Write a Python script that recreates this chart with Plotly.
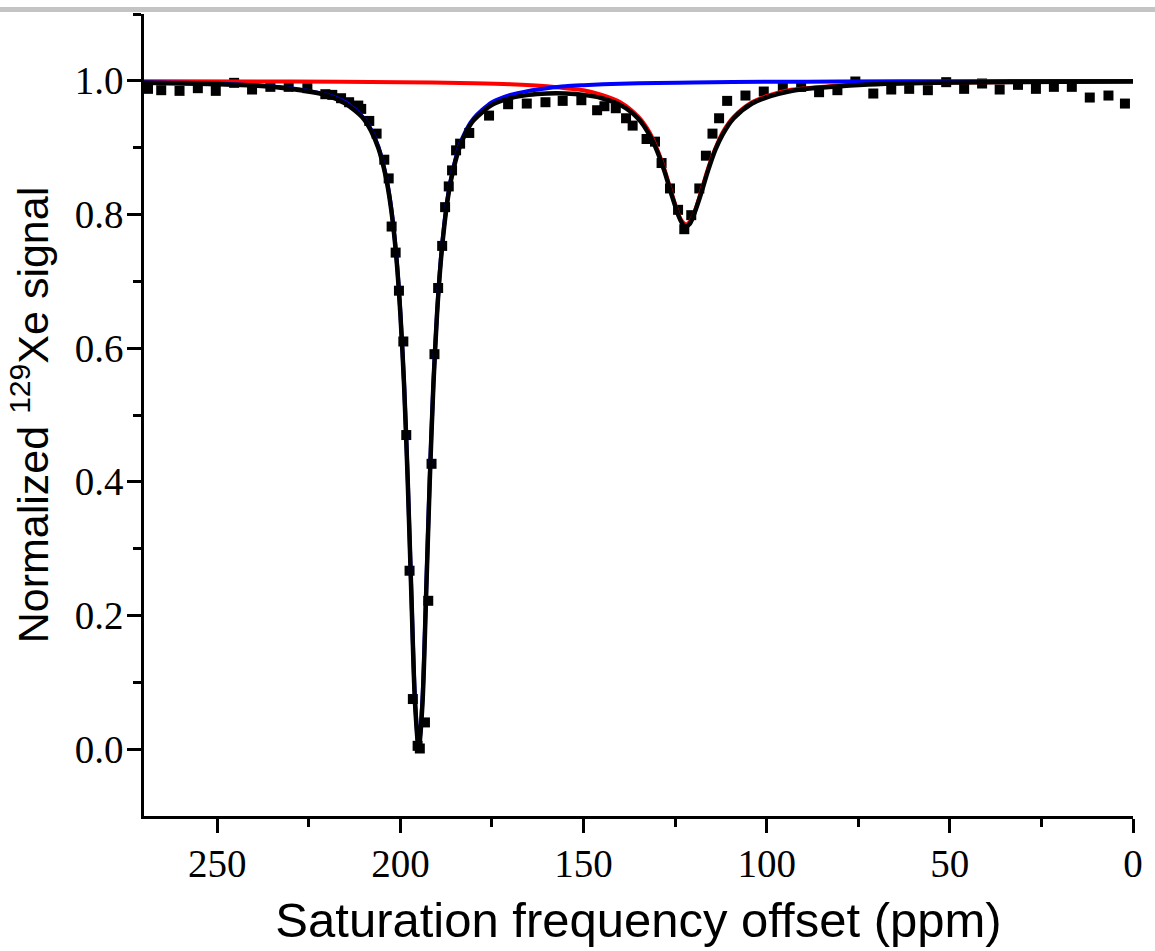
import plotly.graph_objects as go

# ---- measured data (squares) ----
data_x = [268.9, 265.3, 260.3, 255.3, 250.4, 245.4, 240.5, 235.5, 230.5, 225.4,
          220.5, 218.6, 216.2, 214.0, 211.5, 210.7, 208.5, 206.5, 204.4, 203.2,
          202.4, 201.3, 200.4, 199.2, 198.4, 197.5, 196.6, 195.3, 194.7, 193.3,
          192.4, 191.5, 190.7, 189.7, 188.6, 187.8, 186.8, 185.9, 184.8, 183.7,
          181.2, 175.8, 170.6, 165.5, 160.4, 155.7, 150.6, 146.3, 144.3, 141.2,
          138.4, 136.6, 132.8, 130.5, 128.7, 126.4, 124.2, 122.5, 120.6, 118.4,
          116.6, 114.8, 113.0, 110.8, 105.8, 100.8, 95.6, 90.6, 85.7, 80.7,
          75.8, 70.9, 66.0, 61.1, 56.0, 51.0, 46.1, 41.2, 36.4, 31.4,
          26.5, 21.6, 16.7, 11.8, 6.7, 2.2]
data_y = [0.988, 0.986, 0.985, 0.989, 0.985, 0.997, 0.987, 0.991, 0.991, 0.989,
          0.980, 0.979, 0.974, 0.968, 0.963, 0.958, 0.940, 0.921, 0.882, 0.854,
          0.782, 0.743, 0.686, 0.610, 0.470, 0.267, 0.075, 0.005, 0.001, 0.040,
          0.222, 0.427, 0.591, 0.690, 0.753, 0.811, 0.842, 0.866, 0.896, 0.906,
          0.922, 0.948, 0.965, 0.966, 0.968, 0.970, 0.971, 0.956, 0.962, 0.959,
          0.944, 0.933, 0.913, 0.909, 0.877, 0.839, 0.807, 0.778, 0.799, 0.839,
          0.888, 0.921, 0.944, 0.970, 0.978, 0.984, 0.990, 0.991, 0.983, 0.986,
          0.999, 0.981, 0.987, 0.988, 0.986, 0.998, 0.988, 0.996, 0.987, 0.994,
          0.988, 0.991, 0.991, 0.975, 0.978, 0.966]

# ---- total fit (black) ----
fit_x = [270, 260, 250, 240, 230, 220, 215, 210, 208, 206,
         204, 203, 202, 201, 200, 199, 198, 197, 196, 195,
         194, 193, 192, 191, 190, 189, 188, 187, 186, 184,
         182, 180, 175, 170, 165, 160, 155, 150, 145, 140,
         135, 132, 130, 128, 126, 124, 123, 122, 121, 120,
         118, 116, 114, 112, 109, 104, 99, 94, 89, 80,
         70, 55, 40, 20, 0]
fit_y = [0.997, 0.996, 0.995, 0.993, 0.988, 0.978, 0.966, 0.943, 0.925, 0.899,
         0.857, 0.826, 0.785, 0.729, 0.650, 0.545, 0.401, 0.229, 0.068, 0.001,
         0.066, 0.227, 0.399, 0.544, 0.651, 0.728, 0.784, 0.826, 0.856, 0.898,
         0.924, 0.941, 0.964, 0.974, 0.979, 0.981, 0.981, 0.979, 0.974, 0.964,
         0.943, 0.919, 0.896, 0.866, 0.830, 0.797, 0.786, 0.782, 0.786, 0.798,
         0.830, 0.866, 0.897, 0.920, 0.944, 0.966, 0.977, 0.984, 0.988, 0.992,
         0.995, 0.997, 0.998, 0.9985, 0.999]

# ---- component 1 (blue) ----
blue_x = [270, 250, 230, 220, 215, 210, 208, 206, 204, 203,
          202, 201, 200, 199, 198, 197, 196, 195, 194, 193,
          192, 191, 190, 189, 188, 187, 186, 184, 182, 180,
          175, 170, 165, 160, 155, 150, 140, 130, 120, 100,
          80, 50, 0]
blue_y = [0.998, 0.996, 0.989, 0.979, 0.968, 0.944, 0.927, 0.901, 0.859, 0.829,
          0.787, 0.731, 0.653, 0.547, 0.405, 0.233, 0.073, 0.003, 0.073, 0.233,
          0.405, 0.547, 0.653, 0.731, 0.787, 0.829, 0.859, 0.901, 0.927, 0.944,
          0.968, 0.979, 0.985, 0.989, 0.992, 0.9935, 0.9956, 0.9968, 0.9976, 0.9985,
          0.999, 0.9995, 0.9997]

# ---- component 2 (red) ----
red_x = [270, 230, 200, 180, 170, 160, 155, 150, 145, 140,
         135, 132, 130, 128, 126, 124, 123, 122, 121, 120,
         118, 116, 114, 112, 109, 104, 99, 94, 89, 80,
         70, 55, 40, 20, 0]
red_y = [0.9995, 0.999, 0.998, 0.9965, 0.995, 0.992, 0.989, 0.986, 0.979, 0.968,
         0.946, 0.923, 0.899, 0.869, 0.833, 0.799, 0.789, 0.785, 0.789, 0.799,
         0.833, 0.869, 0.899, 0.923, 0.946, 0.968, 0.979, 0.986, 0.989, 0.993,
         0.9956, 0.9973, 0.998, 0.9988, 0.9992]

x_ticks = [250, 200, 150, 100, 50, 0]
y_ticks = [0.0, 0.2, 0.4, 0.6, 0.8, 1.0]

fig = go.Figure()
fig.add_trace(go.Scatter(x=data_x, y=data_y, mode="markers",
                         marker=dict(symbol="square", size=10, color="black"),
                         showlegend=False))
fig.add_trace(go.Scatter(x=red_x, y=red_y, mode="lines",
                         line=dict(color="#ff0000", width=4, shape="spline", smoothing=0.8),
                         showlegend=False))
fig.add_trace(go.Scatter(x=blue_x, y=blue_y, mode="lines",
                         line=dict(color="#0000ff", width=4, shape="spline", smoothing=0.8),
                         showlegend=False))
fig.add_trace(go.Scatter(x=fit_x, y=fit_y, mode="lines",
                         line=dict(color="black", width=4.5, shape="spline", smoothing=0.8),
                         showlegend=False))

tickfont = dict(family="Liberation Serif, Times New Roman, serif", size=39, color="black")

fig.update_xaxes(range=[270, 0], tickvals=x_ticks, ticktext=[str(v) for v in x_ticks],
                 ticks="outside", ticklen=14, tickwidth=2.5, tickcolor="black",
                 ticklabelstandoff=-3, ticklabeloverflow="allow",
                 minor=dict(tickvals=[225, 175, 125, 75, 25], ticks="outside",
                            ticklen=8, tickwidth=2.5, tickcolor="black"),
                 showline=True, linecolor="black", linewidth=2.5,
                 showgrid=False, zeroline=False, tickfont=tickfont,
                 title=dict(text="Saturation frequency offset (ppm)",
                            font=dict(family="Liberation Sans, Arial, sans-serif", size=49, color="black"),
                            standoff=20))
fig.update_yaxes(range=[-0.1, 1.1], tickvals=y_ticks, ticktext=[f"{v:.1f}" for v in y_ticks],
                 ticks="outside", ticklen=14, tickwidth=2.5, tickcolor="black",
                 ticklabelstandoff=-4,
                 minor=dict(tickvals=[0.1, 0.3, 0.5, 0.7, 0.9, 1.1], ticks="outside",
                            ticklen=8, tickwidth=2.5, tickcolor="black"),
                 showline=True, linecolor="black", linewidth=2.5,
                 showgrid=False, zeroline=False, tickfont=tickfont,
                 title=dict(text="Normalized <sup>129</sup>Xe signal",
                            font=dict(family="Liberation Sans, Arial, sans-serif", size=43, color="black"),
                            standoff=13))

fig.update_layout(width=1155, height=951,
                  margin=dict(l=144, r=13, t=14, b=133),
                  plot_bgcolor="white", paper_bgcolor="white",
                  shapes=[dict(type="rect", xref="paper", yref="paper",
                               x0=-0.2, x1=1.1, y0=1.0025, y1=1.0087,
                               fillcolor="#c4c4c4", line=dict(width=0), layer="above")])

fig.write_html("out.html", config={"displayModeBar": False},
               post_script="document.body.style.margin='0';document.body.style.overflow='hidden';")
